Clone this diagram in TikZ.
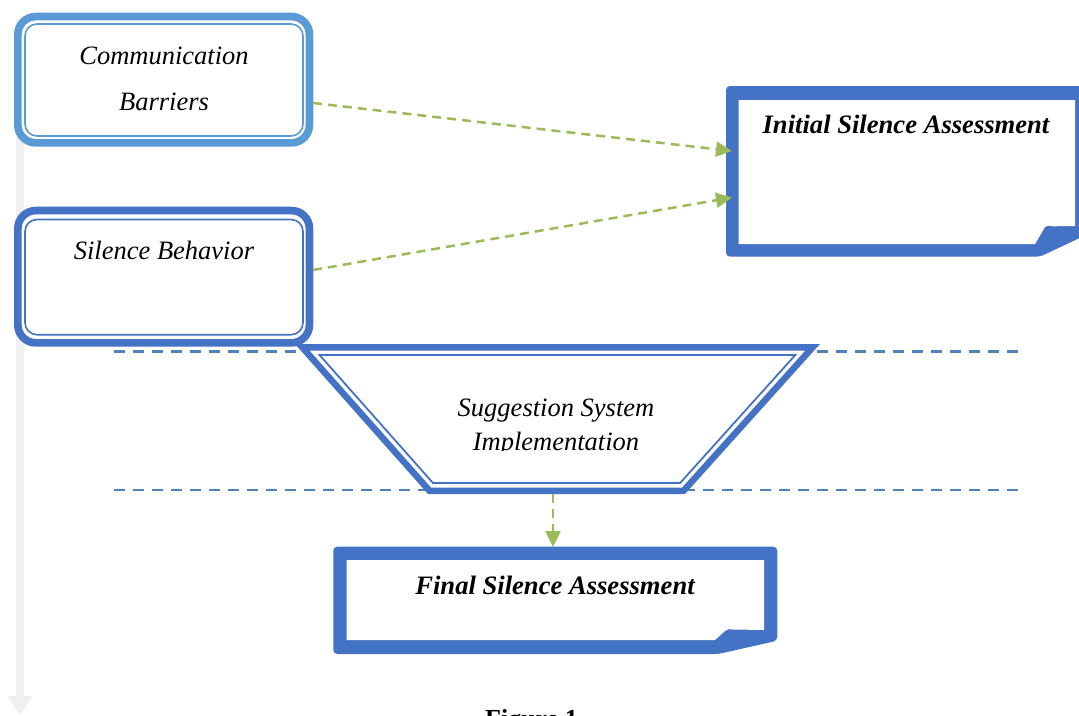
\documentclass[tikz,border=0pt]{standalone}
\usepackage{fontspec}
\setmainfont{Liberation Serif}
\usetikzlibrary{arrows.meta}
\definecolor{lblue}{RGB}{91,155,213}
\definecolor{dblue}{RGB}{68,114,196}
\definecolor{dashblue}{RGB}{79,129,189}
\definecolor{agreen}{RGB}{155,187,89}
\definecolor{lgrey}{RGB}{240,240,240}
\begin{document}
\begin{tikzpicture}[x=1pt,y=-1pt,
  lbl/.style={font=\fontsize{26.5}{30}\selectfont\itshape, inner sep=0pt, anchor=base},
  blbl/.style={font=\fontsize{26.6}{30}\selectfont\bfseries\itshape, inner sep=0pt, anchor=base},
  flow/.style={agreen, line width=2.5pt, dash pattern=on 9pt off 6pt, -{Triangle[length=16pt,width=15pt]}},
  guide/.style={dashblue, line width=2.5pt, dash pattern=on 11pt off 8pt},
  thickb/.style={line width=7.7pt, fill=white},
  thinb/.style={line width=1.6pt},
  timeline/.style={lgrey, line width=8pt, -{Triangle[length=19pt,width=23.5pt]}}
]
\useasboundingbox (0,0) rectangle (1079,715);
\clip (0,0) rectangle (1079,715);

% grey time line
\coordinate (tl-top) at (20,20);
\coordinate (tl-end) at (20,715);
\draw[timeline] (tl-top) -- (tl-end);

% dashed guide lines
\coordinate (g1a) at (114,351.7);
\coordinate (g1b) at (1021,351.7);
\coordinate (g2a) at (114,490);
\coordinate (g2b) at (1021,490);
\draw[guide] (g1a) -- (g1b);
\draw[guide] (g2a) -- (g2b);

% Communication Barriers
\draw[lblue, thickb, rounded corners=18pt] (17.85,16.55) rectangle (309.45,142.85);
\draw[lblue, thinb, rounded corners=12pt] (25,24) rectangle (303,136);
\node[lbl] (cb1) at (164,64) {Communication};
\node[lbl] (cb2) at (164,110) {Barriers};

% Silence Behavior
\draw[dblue, thickb, rounded corners=18pt] (17.85,210.55) rectangle (309.45,342.85);
\draw[dblue, thinb, rounded corners=12pt] (25,219.5) rectangle (303,334.7);
\node[lbl] (sb) at (164,259) {Silence Behavior};

% Initial Silence Assessment (folded corner)
\fill[dblue, rounded corners=4pt] (800,256.7) -- (726,256.7) -- (726,86) -- (1095,86) -- (1095,230.7) -- (1040,256.7) -- cycle;
\fill[white] (738.7,100) -- (1075,100) -- (1075,226) -- (1053,226.3)
  .. controls (1050,226) and (1047,224.5) .. (1045,227) -- (1035,244) -- (738.7,244) -- cycle;
\node[blbl] (isa) at (906,133) {Initial Silence Assessment};

% Suggestion System Implementation (trapezoid)
\draw[dblue, line width=6.5pt, line join=miter, fill=white] (302.2,347.25) -- (812.7,347.25) -- (683.55,490.75) -- (429.5,490.75) -- cycle;
\draw[dblue, line width=1.8pt, line join=miter] (319.5,355) -- (795.3,355) -- (680.1,483) -- (433,483) -- cycle;
\begin{scope}
\clip (300,340) rectangle (820,450.5);
\node[lbl] (ss1) at (556,416) {Suggestion System};
\node[lbl] (ss2) at (556,450) {Implementation};
\end{scope}

% Final Silence Assessment (folded corner)
\fill[dblue, rounded corners=4pt] (500,654) -- (333.3,654) -- (333.3,546.7) -- (777.3,546.7) -- (777.3,640.7) -- (718.3,654) -- cycle;
\fill[white] (346.7,560) -- (764,560) -- (764,630) -- (733,629.5)
  .. controls (729,629) and (727,629) .. (725,631) -- (715,640) -- (346.7,640) -- cycle;
\node[blbl] (fsa) at (555,594) {Final Silence Assessment};

% connectors
\coordinate (cb-out) at (313,103);
\coordinate (isa-in1) at (732,151);
\coordinate (sb-out) at (313,270);
\coordinate (isa-in2) at (732,197.5);
\coordinate (ss-out) at (553,494);
\coordinate (fsa-in) at (553,547);
\draw[flow] (cb-out) -- (isa-in1);
\draw[flow] (sb-out) -- (isa-in2);
\draw[flow] (ss-out) -- (fsa-in);

% caption (cut at the bottom edge, as in the reference)
\node[font=\fontsize{26}{30}\selectfont\bfseries, inner sep=0pt, anchor=base] (fig) at (531.5,727) {Figure 1};
\end{tikzpicture}
\end{document}
